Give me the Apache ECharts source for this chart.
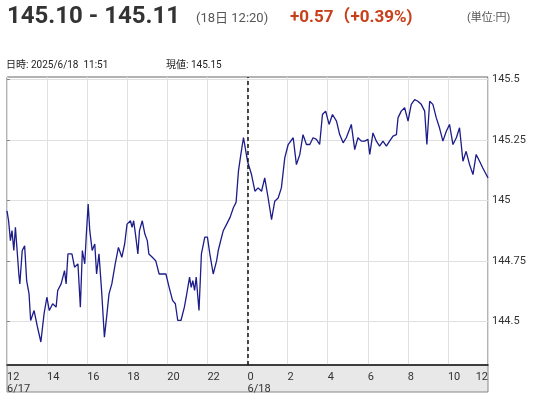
<!DOCTYPE html>
<html><head><meta charset="utf-8">
<script src="https://cdn.jsdelivr.net/npm/echarts@6/dist/echarts.min.js"></script>
<style>body{margin:0;background:#fff}#c{width:540px;height:400px}</style></head>
<body><div id="c"></div>
<script>
// hours since 6/17 12:00
const hours = [0,0.08,0.17,0.25,0.34,0.42,0.51,0.59,0.64,0.76,0.88,0.98,1.10,1.18,1.35,1.52,1.69,1.85,1.99,2.11,2.28,2.45,2.53,2.70,2.87,2.95,3.04,3.24,3.37,3.54,3.66,3.76,3.88,3.96,4.05,4.13,4.25,4.38,4.47,4.59,4.72,4.86,4.97,5.09,5.23,5.40,5.56,5.73,5.87,5.99,6.16,6.24,6.32,6.41,6.53,6.61,6.75,6.88,7.00,7.08,7.25,7.42,7.59,7.76,7.93,8.09,8.26,8.40,8.52,8.68,8.85,8.94,9.11,9.19,9.27,9.36,9.44,9.58,9.70,9.87,10.00,10.12,10.29,10.46,10.54,10.62,10.79,10.96,11.13,11.30,11.43,11.55,11.67,11.80,11.94,
12.00,12.20,12.37,12.53,12.70,12.86,13.03,13.20,13.36,13.53,13.69,13.86,14.03,14.28,14.44,14.61,14.77,14.94,15.11,15.27,15.44,15.60,15.74,15.90,16.07,16.24,16.44,16.60,16.77,16.93,17.18,17.35,17.51,17.68,17.85,18.01,18.10,18.26,18.43,18.59,18.76,18.93,19.09,19.26,19.43,19.51,19.67,19.84,20.01,20.17,20.34,20.50,20.67,20.84,20.95,21.09,21.25,21.42,21.58,21.75,21.92,22.08,22.25,22.42,22.58,22.75,22.91,23.08,23.25,23.41,23.58,23.74,23.91,24.0];
const prices = [144.957,144.916,144.834,144.875,144.793,144.889,144.896,144.696,144.655,144.793,144.813,144.669,144.614,144.504,144.545,144.477,144.415,144.532,144.600,144.545,144.573,144.559,144.628,144.655,144.710,144.655,144.779,144.779,144.724,144.738,144.559,144.793,144.738,144.861,144.985,144.875,144.793,144.820,144.696,144.779,144.628,144.435,144.518,144.614,144.655,144.738,144.806,144.765,144.820,144.902,144.916,144.889,144.916,144.861,144.779,144.875,144.916,144.861,144.834,144.779,144.765,144.751,144.696,144.696,144.696,144.641,144.587,144.573,144.504,144.504,144.559,144.600,144.683,144.641,144.669,144.628,144.683,144.545,144.779,144.848,144.848,144.779,144.696,144.751,144.793,144.820,144.875,144.902,144.930,144.971,144.992,145.122,145.191,145.260,145.191,
145.162,145.107,145.038,145.052,145.038,145.093,145.010,144.921,144.997,145.010,145.052,145.176,145.231,145.259,145.148,145.190,145.272,145.231,145.231,145.259,145.252,145.231,145.355,145.369,145.314,145.355,145.328,145.272,145.238,145.259,145.314,145.210,145.259,145.245,145.245,145.252,145.190,145.279,145.245,145.224,145.245,145.224,145.245,145.266,145.272,145.341,145.369,145.383,145.328,145.397,145.417,145.410,145.397,145.369,145.231,145.410,145.397,145.341,145.300,145.245,145.286,145.314,145.231,145.259,145.300,145.162,145.203,145.148,145.107,145.190,145.162,145.134,145.107,145.093];
const xTickLabels = {0:'12\n6/17',2:'14',4:'16',6:'18',8:'20',10:'22',12:'0\n6/18',14:'2',16:'4',18:'6',20:'8',22:'10',24:'12'};
const yTicks = [144.5,144.75,145,145.25,145.5];
const yTickLabels = ['144.5','144.75','145','145.25','145.5'];

const chart = echarts.init(document.getElementById('c'));
const F = 'Roboto, "Noto Sans CJK JP", sans-serif';
chart.setOption({
  animation:false,
  textStyle:{fontFamily:F},
  graphic:[
    {type:'rect',shape:{x:7,y:365,width:481,height:27},style:{fill:'#e8e8e8',stroke:'#888',lineWidth:1},z:-1},
    {type:'text',left:7,top:5,style:{text:'145.10 - 145.11',font:'bold 24px '+F,fill:'#333'}},
    {type:'text',left:196,top:12,style:{text:'(18日 12:20)',font:'13px '+F,fill:'#555'}},
    {type:'text',left:290,top:9,style:{text:'+0.57（+0.39%)',font:'bold 17px '+F,fill:'#c8401a'}},
    {type:'text',left:467,top:13,style:{text:'(単位:円)',font:'11px '+F,fill:'#555'}},
    {type:'text',left:6,top:61,style:{text:'日時: 2025/6/18  11:51',font:'10px '+F,fill:'#222'}},
    {type:'text',left:166,top:61,style:{text:'現値: 145.15',font:'10px '+F,fill:'#222'}}
  ],
  grid:{left:7,right:52,top:77,bottom:35,show:true,borderColor:'#666',borderWidth:1},
  xAxis:{type:'value',min:0,max:24,interval:2,
    axisLine:{show:true,lineStyle:{color:'#222',width:1.5}},axisTick:{show:false},
    splitLine:{show:true,lineStyle:{color:'#e0e0e0'}},
    axisLabel:{color:'#333',fontSize:11,align:'left',margin:6,lineHeight:12,
      alignMaxLabel:'right',
      formatter:v=>xTickLabels[v]||''}},
  yAxis:{type:'value',position:'right',min:144.32,max:145.51,
    axisLine:{show:false},
    axisTick:{show:true,customValues:yTicks,length:3,lineStyle:{color:'#888'}},
    splitLine:{show:true,lineStyle:{color:'#e0e0e0'}},
    axisLabel:{customValues:yTicks,color:'#333',fontSize:11,margin:4,
      formatter:v=>yTickLabels[yTicks.indexOf(v)]}},
  series:[{type:'line',data:hours.map((h,i)=>[h,prices[i]]),showSymbol:false,
    lineStyle:{color:'#1c1c8a',width:1.3},
    markLine:{silent:true,symbol:'none',label:{show:false},
      lineStyle:{color:'#111',type:[4,3],width:1.5},data:[{xAxis:12}]}}]
});
</script></body></html>
